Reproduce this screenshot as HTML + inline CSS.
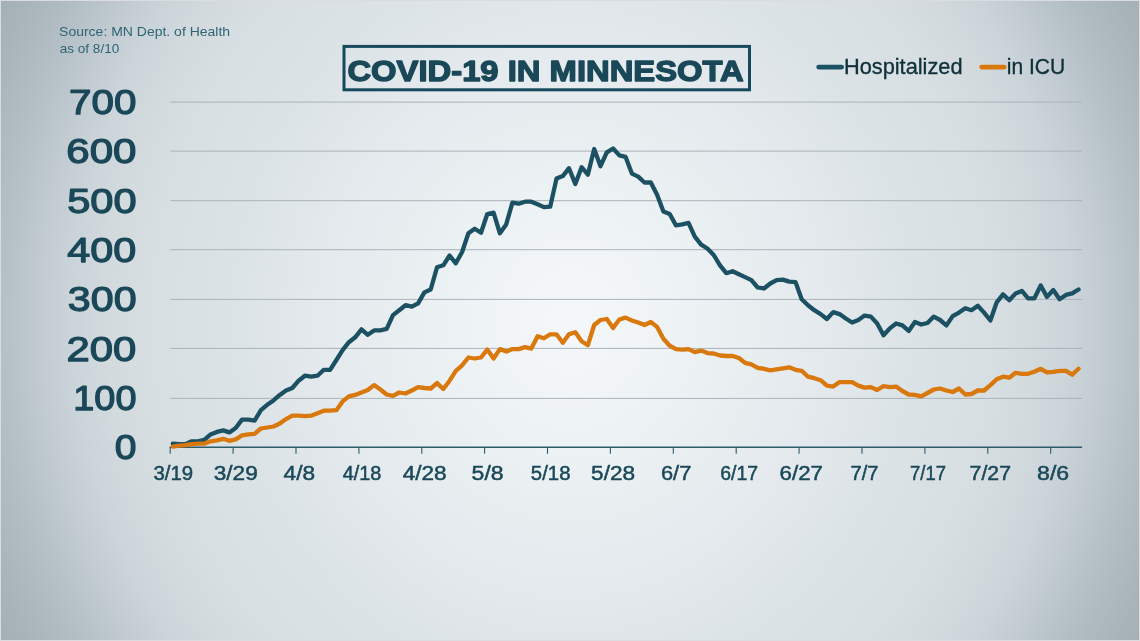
<!DOCTYPE html>
<html><head><meta charset="utf-8"><title>COVID-19 in Minnesota</title>
<style>
html,body{margin:0;padding:0;background:#dadcdd;}
body{width:1140px;height:641px;overflow:hidden;font-family:"Liberation Sans",sans-serif;}
#frame{position:absolute;left:0;top:0;width:1140px;height:641px;background:#dadcdd;}
#bg{position:absolute;left:1px;top:1px;width:1138px;height:639px;
 background:
  radial-gradient(ellipse 700px 756px at 571px 319px, #f5f8fa 0.00%, #ecf1f3 18.57%, #e4eaed 34.86%, #dce3e7 48.57%, #d7dfe3 60.00%, #d2dade 66.43%, #cbd4d9 71.43%, #c2ccd2 75.71%, #b8c3c9 80.00%, #afbbc1 84.29%, #a8b4ba 88.57%, #a1aeb4 94.29%, #9ca9af 100.00%);
}
svg{position:absolute;left:0;top:0;will-change:transform;}
text{font-family:"Liberation Sans",sans-serif;}
.yl{font-size:35px;fill:#1a4858;stroke:#1a4858;stroke-width:1.25px;stroke-linejoin:round;}
.xl{font-size:20.5px;fill:#1a4858;stroke:#1a4858;stroke-width:0.5px;}
.lg{font-size:21.7px;fill:#10313a;stroke:#10313a;stroke-width:0.35px;}
.src{font-size:13.3px;fill:#2f6474;}
.ttl{font-size:30.3px;font-weight:bold;fill:#1a4858;stroke:#1a4858;stroke-width:1.4px;stroke-linejoin:round;}
</style></head><body>
<div id="frame"><div id="bg"></div>
<svg width="1140" height="641" viewBox="0 0 1140 641">
<line x1="170.2" y1="398.4" x2="1082.1" y2="398.4" stroke="#a9b3b9" stroke-width="1"/>
<line x1="170.2" y1="348.4" x2="1082.1" y2="348.4" stroke="#a9b3b9" stroke-width="1"/>
<line x1="170.2" y1="299.4" x2="1082.1" y2="299.4" stroke="#a9b3b9" stroke-width="1"/>
<line x1="170.2" y1="249.7" x2="1082.1" y2="249.7" stroke="#a9b3b9" stroke-width="1"/>
<line x1="170.2" y1="200.7" x2="1082.1" y2="200.7" stroke="#a9b3b9" stroke-width="1"/>
<line x1="170.2" y1="151.1" x2="1082.1" y2="151.1" stroke="#a9b3b9" stroke-width="1"/>
<line x1="170.2" y1="102.1" x2="1082.1" y2="102.1" stroke="#a9b3b9" stroke-width="1"/>
<line x1="169.7" y1="447.2" x2="1082.1" y2="447.2" stroke="#2c5b6a" stroke-width="1.4"/>
<line x1="170.2" y1="447.2" x2="170.2" y2="453.8" stroke="#2c5b6a" stroke-width="1.1"/>
<line x1="233.1" y1="447.2" x2="233.1" y2="453.8" stroke="#2c5b6a" stroke-width="1.1"/>
<line x1="296.0" y1="447.2" x2="296.0" y2="453.8" stroke="#2c5b6a" stroke-width="1.1"/>
<line x1="358.9" y1="447.2" x2="358.9" y2="453.8" stroke="#2c5b6a" stroke-width="1.1"/>
<line x1="421.8" y1="447.2" x2="421.8" y2="453.8" stroke="#2c5b6a" stroke-width="1.1"/>
<line x1="484.6" y1="447.2" x2="484.6" y2="453.8" stroke="#2c5b6a" stroke-width="1.1"/>
<line x1="547.5" y1="447.2" x2="547.5" y2="453.8" stroke="#2c5b6a" stroke-width="1.1"/>
<line x1="610.4" y1="447.2" x2="610.4" y2="453.8" stroke="#2c5b6a" stroke-width="1.1"/>
<line x1="673.3" y1="447.2" x2="673.3" y2="453.8" stroke="#2c5b6a" stroke-width="1.1"/>
<line x1="736.2" y1="447.2" x2="736.2" y2="453.8" stroke="#2c5b6a" stroke-width="1.1"/>
<line x1="799.1" y1="447.2" x2="799.1" y2="453.8" stroke="#2c5b6a" stroke-width="1.1"/>
<line x1="862.0" y1="447.2" x2="862.0" y2="453.8" stroke="#2c5b6a" stroke-width="1.1"/>
<line x1="924.9" y1="447.2" x2="924.9" y2="453.8" stroke="#2c5b6a" stroke-width="1.1"/>
<line x1="987.8" y1="447.2" x2="987.8" y2="453.8" stroke="#2c5b6a" stroke-width="1.1"/>
<line x1="1050.7" y1="447.2" x2="1050.7" y2="453.8" stroke="#2c5b6a" stroke-width="1.1"/>
<text class="xl" x="153.47" y="479.6" textLength="39.59" lengthAdjust="spacingAndGlyphs">3/19</text>
<text class="xl" x="213.76" y="479.6" textLength="44.02" lengthAdjust="spacingAndGlyphs">3/29</text>
<text class="xl" x="283.58" y="479.6" textLength="31.43" lengthAdjust="spacingAndGlyphs">4/8</text>
<text class="xl" x="342.77" y="479.6" textLength="38.60" lengthAdjust="spacingAndGlyphs">4/18</text>
<text class="xl" x="402.69" y="479.6" textLength="43.92" lengthAdjust="spacingAndGlyphs">4/28</text>
<text class="xl" x="471.60" y="479.6" textLength="32.02" lengthAdjust="spacingAndGlyphs">5/8</text>
<text class="xl" x="530.83" y="479.6" textLength="39.64" lengthAdjust="spacingAndGlyphs">5/18</text>
<text class="xl" x="591.13" y="479.6" textLength="44.04" lengthAdjust="spacingAndGlyphs">5/28</text>
<text class="xl" x="660.94" y="479.6" textLength="30.43" lengthAdjust="spacingAndGlyphs">6/7</text>
<text class="xl" x="720.16" y="479.6" textLength="37.93" lengthAdjust="spacingAndGlyphs">6/17</text>
<text class="xl" x="779.60" y="479.6" textLength="43.33" lengthAdjust="spacingAndGlyphs">6/27</text>
<text class="xl" x="850.44" y="479.6" textLength="28.03" lengthAdjust="spacingAndGlyphs">7/7</text>
<text class="xl" x="910.09" y="479.6" textLength="35.88" lengthAdjust="spacingAndGlyphs">7/17</text>
<text class="xl" x="969.60" y="479.6" textLength="41.40" lengthAdjust="spacingAndGlyphs">7/27</text>
<text class="xl" x="1037.13" y="479.6" textLength="32.01" lengthAdjust="spacingAndGlyphs">8/6</text>
<text class="yl" x="69.08" y="114.2" textLength="67.28" lengthAdjust="spacingAndGlyphs">700</text>
<text class="yl" x="66.30" y="163.4" textLength="70.23" lengthAdjust="spacingAndGlyphs">600</text>
<text class="yl" x="67.19" y="212.7" textLength="69.34" lengthAdjust="spacingAndGlyphs">500</text>
<text class="yl" x="67.39" y="262.0" textLength="68.94" lengthAdjust="spacingAndGlyphs">400</text>
<text class="yl" x="67.85" y="311.3" textLength="68.70" lengthAdjust="spacingAndGlyphs">300</text>
<text class="yl" x="66.60" y="360.6" textLength="69.79" lengthAdjust="spacingAndGlyphs">200</text>
<text class="yl" x="73.31" y="409.9" textLength="63.15" lengthAdjust="spacingAndGlyphs">100</text>
<text class="yl" x="114.69" y="459.2" textLength="21.72" lengthAdjust="spacingAndGlyphs">0</text>
<text class="ttl" x="347.45" y="80.8" textLength="396.36" lengthAdjust="spacingAndGlyphs">COVID-19 IN MINNESOTA</text>
<text class="lg" x="843.98" y="73.7" textLength="118.57" lengthAdjust="spacingAndGlyphs">Hospitalized</text>
<text class="lg" x="1006.78" y="73.7" textLength="58.45" lengthAdjust="spacingAndGlyphs">in ICU</text>
<text class="src" x="59.09" y="35.9" textLength="171.03" lengthAdjust="spacingAndGlyphs">Source: MN Dept. of Health</text>
<text class="src" x="59.69" y="52.5" textLength="59.56" lengthAdjust="spacingAndGlyphs">as of 8/10</text>
<path d="M172.8 443.7 L179.1 444.2 L185.4 444.2 L191.7 441.3 L198.0 441.3 L204.3 439.8 L210.6 434.4 L216.9 431.9 L223.2 430.4 L229.4 432.4 L235.7 428.0 L242.0 419.6 L248.3 419.6 L254.6 420.6 L260.9 410.2 L267.2 404.8 L273.5 400.4 L279.8 394.9 L286.0 390.5 L292.3 388.0 L298.6 380.7 L304.9 375.7 L311.2 376.7 L317.5 375.7 L323.8 369.8 L330.1 369.8 L336.4 360.0 L342.6 350.1 L348.9 342.2 L355.2 337.3 L361.5 329.4 L367.8 334.8 L374.1 330.4 L380.4 330.4 L386.7 328.9 L393.0 315.1 L399.2 310.2 L405.5 305.2 L411.8 306.7 L418.1 303.3 L424.4 292.4 L430.7 289.5 L437.0 267.3 L443.3 265.3 L449.6 255.5 L455.8 263.3 L462.1 252.0 L468.4 233.3 L474.7 228.8 L481.0 232.8 L487.3 214.0 L493.6 212.6 L499.9 233.3 L506.2 224.4 L512.4 202.7 L518.7 203.7 L525.0 201.7 L531.3 201.7 L537.6 204.2 L543.9 207.1 L550.2 206.7 L556.5 178.6 L562.8 176.1 L569.0 168.2 L575.3 184.0 L581.6 167.2 L587.9 174.6 L594.2 149.0 L600.5 166.2 L606.8 152.4 L613.1 148.5 L619.4 155.4 L625.6 156.9 L631.9 173.6 L638.2 176.6 L644.5 182.5 L650.8 182.5 L657.1 194.8 L663.4 211.6 L669.7 214.0 L676.0 225.4 L682.3 224.4 L688.5 222.9 L694.8 236.7 L701.1 244.6 L707.4 248.5 L713.7 255.0 L720.0 265.3 L726.3 273.2 L732.6 271.2 L738.9 274.2 L745.1 277.1 L751.4 280.1 L757.7 287.5 L764.0 288.5 L770.3 283.5 L776.6 280.1 L782.9 279.6 L789.2 281.6 L795.5 282.1 L801.7 299.3 L808.0 305.2 L814.3 310.2 L820.6 314.1 L826.9 319.0 L833.2 312.1 L839.5 314.1 L845.8 318.5 L852.1 322.5 L858.3 320.0 L864.6 315.6 L870.9 316.6 L877.2 323.5 L883.5 335.3 L889.8 328.4 L896.1 323.5 L902.4 325.4 L908.7 330.9 L914.9 322.0 L921.2 324.5 L927.5 323.0 L933.8 316.6 L940.1 320.0 L946.4 325.4 L952.7 316.1 L959.0 312.6 L965.3 308.2 L971.5 310.2 L977.8 305.7 L984.1 312.6 L990.4 320.5 L996.7 302.3 L1003.0 294.4 L1009.3 300.3 L1015.6 293.4 L1021.9 290.9 L1028.1 298.3 L1034.4 298.3 L1040.7 285.5 L1047.0 296.9 L1053.3 290.0 L1059.6 299.3 L1065.9 294.9 L1072.2 293.4 L1078.5 289.5" fill="none" stroke="#1b5163" stroke-width="4.3" stroke-linejoin="round" stroke-linecap="round"/>
<path d="M172.8 446.7 L179.1 445.7 L185.4 445.2 L191.7 444.2 L198.0 443.7 L204.3 443.7 L210.6 441.3 L216.9 440.3 L223.2 438.8 L229.4 440.8 L235.7 439.3 L242.0 435.4 L248.3 434.4 L254.6 433.9 L260.9 428.5 L267.2 427.5 L273.5 426.5 L279.8 423.5 L286.0 419.1 L292.3 415.7 L298.6 415.7 L304.9 416.1 L311.2 415.7 L317.5 413.2 L323.8 410.7 L330.1 410.7 L336.4 410.2 L342.6 401.4 L348.9 396.4 L355.2 394.9 L361.5 392.5 L367.8 390.0 L374.1 385.1 L380.4 389.5 L386.7 394.5 L393.0 395.9 L399.2 392.5 L405.5 393.5 L411.8 390.5 L418.1 387.1 L424.4 388.0 L430.7 388.5 L437.0 383.1 L443.3 389.0 L449.6 380.7 L455.8 370.8 L462.1 365.4 L468.4 357.5 L474.7 358.5 L481.0 357.5 L487.3 349.6 L493.6 358.5 L499.9 349.1 L506.2 351.6 L512.4 349.1 L518.7 349.1 L525.0 347.1 L531.3 348.6 L537.6 336.3 L543.9 338.3 L550.2 334.3 L556.5 334.3 L562.8 342.7 L569.0 334.3 L575.3 332.3 L581.6 341.2 L587.9 345.2 L594.2 325.0 L600.5 320.0 L606.8 319.0 L613.1 327.9 L619.4 319.5 L625.6 317.6 L631.9 320.5 L638.2 322.5 L644.5 325.0 L650.8 322.0 L657.1 326.9 L663.4 338.8 L669.7 345.7 L676.0 349.1 L682.3 349.6 L688.5 349.1 L694.8 352.1 L701.1 350.6 L707.4 353.1 L713.7 353.5 L720.0 355.5 L726.3 356.0 L732.6 356.0 L738.9 358.0 L745.1 362.9 L751.4 364.4 L757.7 367.8 L764.0 368.8 L770.3 370.3 L776.6 369.3 L782.9 368.3 L789.2 367.3 L795.5 369.8 L801.7 370.8 L808.0 376.7 L814.3 378.2 L820.6 380.2 L826.9 385.6 L833.2 386.6 L839.5 382.1 L845.8 382.1 L852.1 382.1 L858.3 385.6 L864.6 387.6 L870.9 387.1 L877.2 390.0 L883.5 386.1 L889.8 387.1 L896.1 386.6 L902.4 391.0 L908.7 394.5 L914.9 394.9 L921.2 396.4 L927.5 393.0 L933.8 389.5 L940.1 388.5 L946.4 390.5 L952.7 392.0 L959.0 388.5 L965.3 394.5 L971.5 394.0 L977.8 390.5 L984.1 390.5 L990.4 385.1 L996.7 379.2 L1003.0 376.7 L1009.3 377.7 L1015.6 372.8 L1021.9 373.8 L1028.1 373.8 L1034.4 371.8 L1040.7 368.8 L1047.0 372.3 L1053.3 371.8 L1059.6 370.8 L1065.9 370.8 L1072.2 374.7 L1078.5 368.8" fill="none" stroke="#d9780c" stroke-width="4.3" stroke-linejoin="round" stroke-linecap="round"/>
<rect x="344.0" y="46.4" width="405.5" height="43.4" fill="none" stroke="#15495b" stroke-width="3"/>
<line x1="818.6" y1="67.1" x2="841.7" y2="67.1" stroke="#1b5163" stroke-width="4.6" stroke-linecap="round"/>
<line x1="981.6" y1="67.1" x2="1004.3" y2="67.1" stroke="#d9780c" stroke-width="4.6" stroke-linecap="round"/>
</svg></div></body></html>
